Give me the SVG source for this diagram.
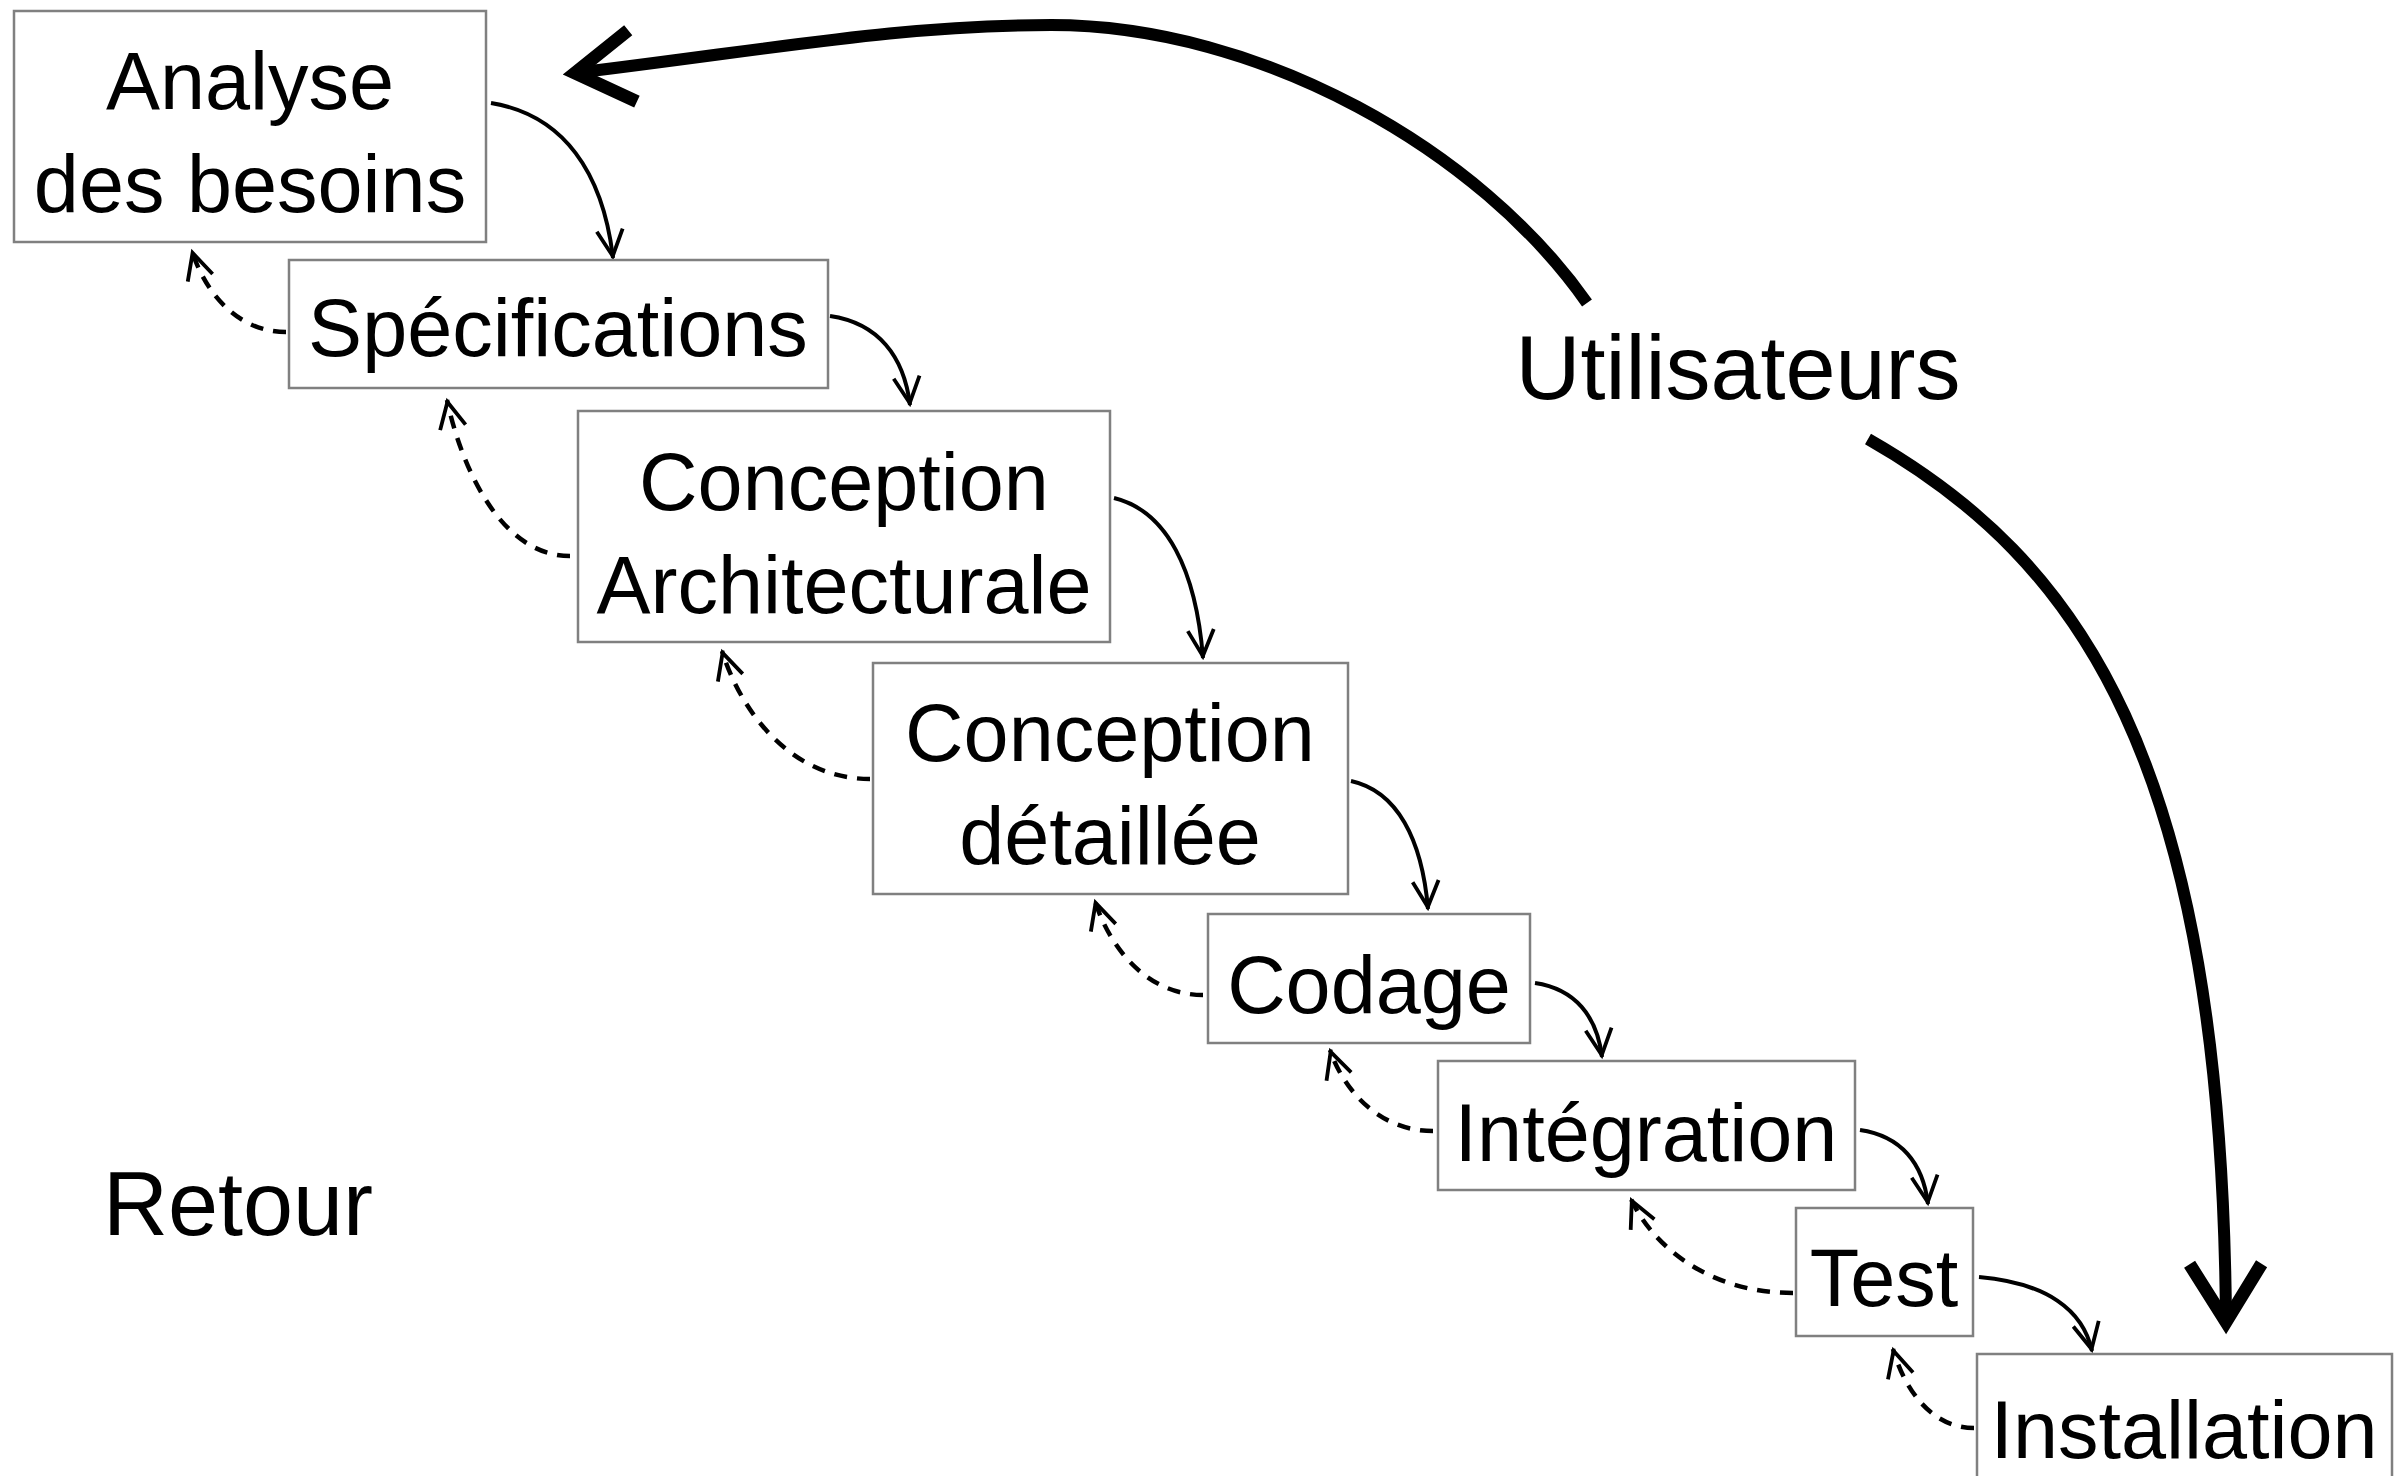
<svg xmlns="http://www.w3.org/2000/svg" width="2397" height="1476" viewBox="0 0 2397 1476">
<style>
.box{fill:#fff;stroke:#808080;stroke-width:2.5}
.lbl{font-family:"Liberation Sans",Arial,sans-serif;font-size:81px;fill:#000;text-anchor:middle}
.big{font-family:"Liberation Sans",Arial,sans-serif;font-size:90px;fill:#000}
.fwd{fill:none;stroke:#000;stroke-width:4}
.back{fill:none;stroke:#000;stroke-width:4.5;stroke-dasharray:13 10}
.user{fill:none;stroke:#000;stroke-width:12}
</style>
<defs>
<marker id="ah" markerUnits="userSpaceOnUse" orient="auto" refX="2" refY="0" markerWidth="40" markerHeight="40" overflow="visible">
<path d="M -26 -13 L 0 0 L -26 13" fill="none" stroke="#000" stroke-width="3.8" stroke-dasharray="none"/>
</marker>
<marker id="bh" markerUnits="userSpaceOnUse" orient="auto" refX="0" refY="0" markerWidth="100" markerHeight="100" overflow="visible">
<path d="M -58 -36 L 0 0 L -58 36" fill="none" stroke="#000" stroke-width="13" stroke-dasharray="none"/>
</marker>
</defs>
<rect width="2397" height="1476" fill="#fff"/>
<g id="connectors">
<path class="fwd" marker-end="url(#ah)" d="M 491 103 C 564 115, 603 173, 613 258"/>
<path class="fwd" marker-end="url(#ah)" d="M 830 316 C 878 323, 904 356, 910 405"/>
<path class="fwd" marker-end="url(#ah)" d="M 1114 498 C 1167 511, 1196 570, 1203 658"/>
<path class="fwd" marker-end="url(#ah)" d="M 1351 781 C 1397 791, 1422 839, 1428 909"/>
<path class="fwd" marker-end="url(#ah)" d="M 1535 983 C 1575 989, 1597 1016, 1602 1057"/>
<path class="fwd" marker-end="url(#ah)" d="M 1860 1130 C 1901 1136, 1923 1163, 1928 1204"/>
<path class="fwd" marker-end="url(#ah)" d="M 1979 1277 C 2047 1283, 2083 1310, 2092 1351"/>
<path class="back" marker-end="url(#ah)" d="M 286 332 C 234 332, 203 287, 192 251"/>
<path class="back" marker-end="url(#ah)" d="M 570 556 C 502 556, 462 470, 447 400"/>
<path class="back" marker-end="url(#ah)" d="M 870 779 C 789 779, 740 709, 722 651"/>
<path class="back" marker-end="url(#ah)" d="M 1203 995 C 1144 995, 1108 943, 1095 901"/>
<path class="back" marker-end="url(#ah)" d="M 1433 1131 C 1376 1131, 1342 1086, 1330 1050"/>
<path class="back" marker-end="url(#ah)" d="M 1793 1293 C 1704 1293, 1650 1241, 1631 1199"/>
<path class="back" marker-end="url(#ah)" d="M 1974 1428 C 1929 1428, 1903 1385, 1893 1349"/>
<path class="user" marker-end="url(#bh)" d="M 1587 303 C 1480 150, 1260 25, 1051 25 C 900 25, 780 48, 575 73"/>
<path class="user" marker-end="url(#bh)" d="M 1868 439 C 2080 560, 2222 760, 2226 1322"/>
</g>
<g id="n-analyse">
<rect class="box" x="14" y="11" width="472" height="231"/>
<text class="lbl" x="250" y="109">Analyse</text>
<text class="lbl" x="250" y="212">des besoins</text>
</g>
<g id="n-specifications">
<rect class="box" x="289" y="260" width="539" height="128"/>
<text class="lbl" x="558" y="356">Spécifications</text>
</g>
<g id="n-conception-archi">
<rect class="box" x="578" y="411" width="532" height="231"/>
<text class="lbl" x="844" y="510">Conception</text>
<text class="lbl" x="844" y="613">Architecturale</text>
</g>
<g id="n-conception-det">
<rect class="box" x="873" y="663" width="475" height="231"/>
<text class="lbl" x="1110" y="761">Conception</text>
<text class="lbl" x="1110" y="864">détaillée</text>
</g>
<g id="n-codage">
<rect class="box" x="1208" y="914" width="322" height="129"/>
<text class="lbl" x="1369" y="1013">Codage</text>
</g>
<g id="n-integration">
<rect class="box" x="1438" y="1061" width="417" height="129"/>
<text class="lbl" x="1646" y="1161">Intégration</text>
</g>
<g id="n-test">
<rect class="box" x="1796" y="1208" width="177" height="128"/>
<text class="lbl" x="1884" y="1306">Test</text>
</g>
<g id="n-installation">
<rect class="box" x="1977" y="1354" width="415" height="140"/>
<text class="lbl" x="2184" y="1458">Installation</text>
</g>
<g id="n-utilisateurs">
<text class="big" x="1738" y="399" text-anchor="middle">Utilisateurs</text>
</g>
<g id="n-retour">
<text class="big" x="238" y="1235" text-anchor="middle">Retour</text>
</g>
</svg>
